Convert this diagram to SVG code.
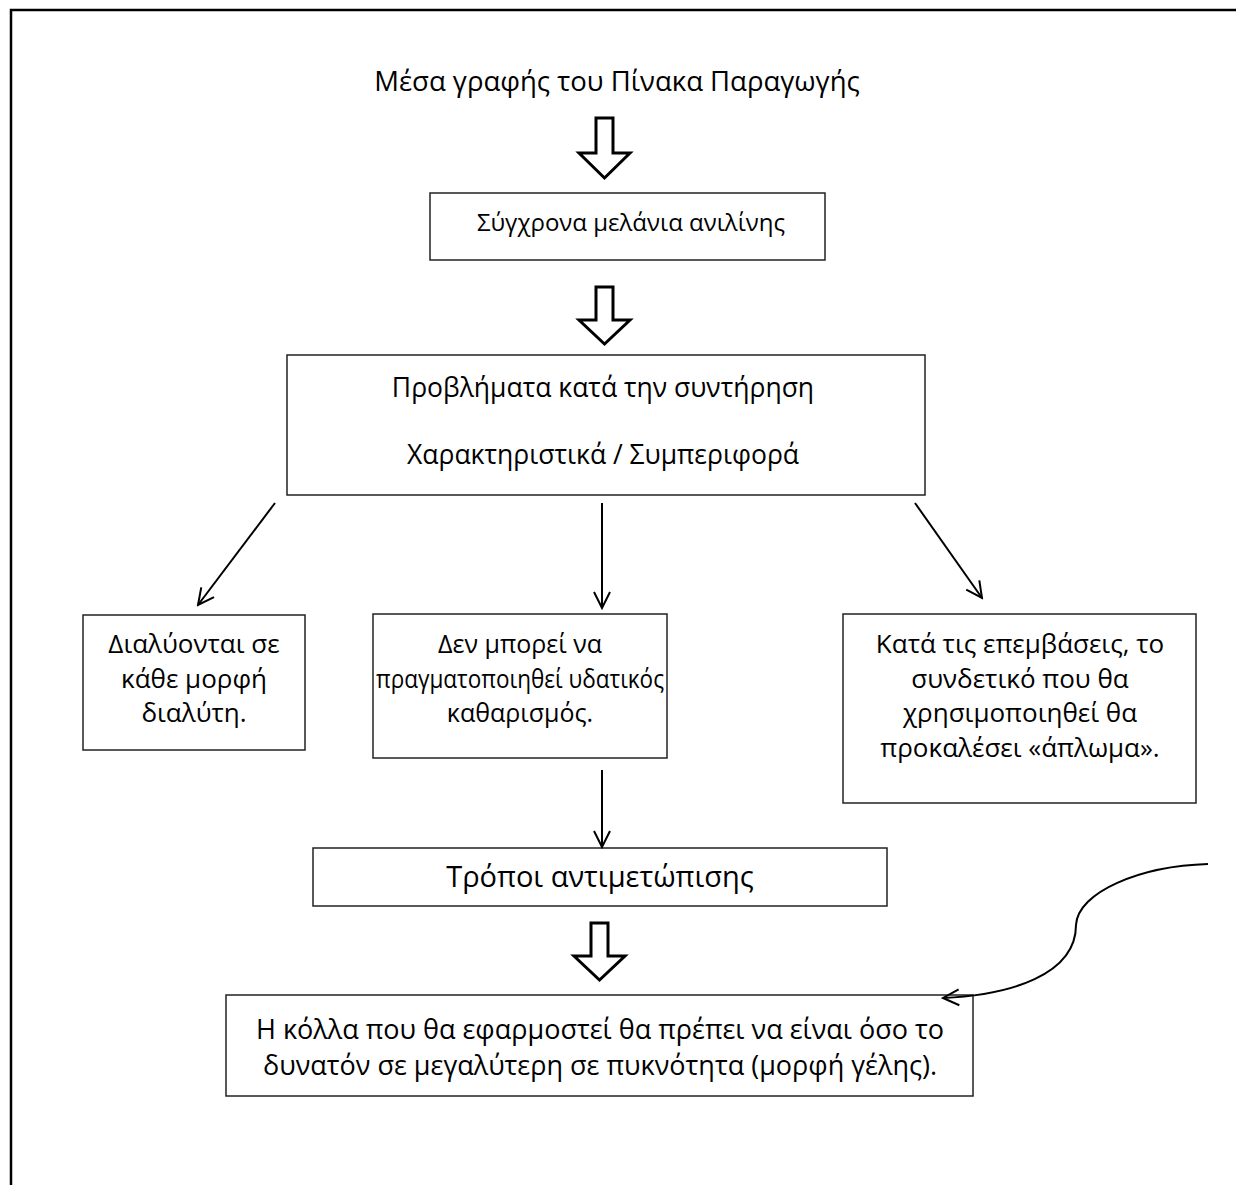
<svg xmlns="http://www.w3.org/2000/svg" width="1236" height="1185" viewBox="0 0 1236 1185">
<defs>
<style>
text{font-family:"Open Sans","Noto Sans","DejaVu Sans",sans-serif;fill:#000;text-anchor:middle}
.box{fill:#fff;stroke:#222;stroke-width:1.5}
.blk{fill:#fff;stroke:#000;stroke-width:3;stroke-linejoin:miter}
.ln{fill:none;stroke:#000;stroke-width:2}
.tt{font-size:27.5px}
.t1{font-size:24px}
.t2{font-size:26.5px}
.t3{font-size:26px}
.t3m{font-size:25px}
.t4{font-size:29px}
.t5{font-size:27px}
</style>
<marker id="ah" viewBox="0 0 20 20" refX="18" refY="10" markerWidth="20" markerHeight="20" markerUnits="userSpaceOnUse" orient="auto">
<path d="M2,2 L18,10 L2,18" fill="none" stroke="#000" stroke-width="2"/>
</marker>
</defs>
<rect x="0" y="0" width="1236" height="1185" fill="#fff"/>
<path d="M11,1185 V10 H1236" fill="none" stroke="#000" stroke-width="2.5"/>
<g id="title"><text class="tt" x="617" y="91">Μέσα γραφής του Πίνακα Παραγωγής</text></g>
<g id="n1"><rect class="box" x="430" y="193" width="395" height="67"/><text class="t1" x="631" y="231">Σύγχρονα μελάνια ανιλίνης</text></g>
<g id="n2"><rect class="box" x="287" y="355" width="638" height="140"/><text class="t2" x="603" y="397">Προβλήματα κατά την συντήρηση</text><text class="t2" x="603" y="464">Χαρακτηριστικά / Συμπεριφορά</text></g>
<g id="n3"><rect class="box" x="83" y="615" width="222" height="135"/><text class="t3" x="194" y="653">Διαλύονται σε</text><text class="t3" x="194" y="688">κάθε μορφή</text><text class="t3" x="194" y="722">διαλύτη.</text></g>
<g id="n4"><rect class="box" x="373" y="614" width="294" height="144"/><text class="t3m" x="520" y="653">Δεν μπορεί να</text><text class="t3m" x="520" y="688" textLength="288" lengthAdjust="spacingAndGlyphs">πραγματοποιηθεί υδατικός</text><text class="t3m" x="520" y="722">καθαρισμός.</text></g>
<g id="n5"><rect class="box" x="843" y="614" width="353" height="189"/><text class="t3" x="1020" y="653">Κατά τις επεμβάσεις, το</text><text class="t3" x="1020" y="688">συνδετικό που θα</text><text class="t3" x="1020" y="722">χρησιμοποιηθεί θα</text><text class="t3" x="1020" y="757">προκαλέσει «άπλωμα».</text></g>
<g id="n6"><rect class="box" x="313" y="848" width="574" height="58"/><text class="t4" x="600" y="887">Τρόποι αντιμετώπισης</text></g>
<g id="n7"><rect class="box" x="226" y="995" width="747" height="101"/><text class="t5" x="600" y="1039">Η κόλλα που θα εφαρμοστεί θα πρέπει να είναι όσο το</text><text class="t5" x="600" y="1075">δυνατόν σε μεγαλύτερη σε πυκνότητα (μορφή γέλης).</text></g>
<g id="connectors">
<path class="blk" d="M596,118 H613 V153 H630 L604.5,178 L579,153 H596 Z"/>
<path class="blk" d="M596,287 H613 V320 H630 L604.5,344 L579,320 H596 Z"/>
<path class="blk" d="M591,923 H608 V956 H625 L599.5,980 L574,956 H591 Z"/>
<line class="ln" x1="275" y1="503" x2="198" y2="605" marker-end="url(#ah)"/>
<line class="ln" x1="602" y1="503" x2="602" y2="608" marker-end="url(#ah)"/>
<line class="ln" x1="915" y1="503" x2="982" y2="598" marker-end="url(#ah)"/>
<line class="ln" x1="602" y1="770" x2="602" y2="847" marker-end="url(#ah)"/>
<path class="ln" d="M1208,864 C1140,866 1078,892 1076,925 C1076,975 1010,995 943,998" marker-end="url(#ah)"/>
</g>
</svg>
